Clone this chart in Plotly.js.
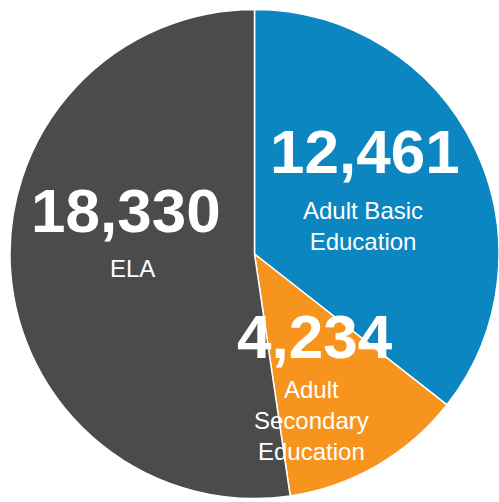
<!DOCTYPE html>
<html>
<head>
<meta charset="utf-8">
<script src="https://cdn.plot.ly/plotly-3.0.1.min.js"></script>
<style>html,body{margin:0;padding:0;background:#fff;}#chart{width:499px;height:502px;}</style>
</head>
<body>
<div id="chart"></div>
<script>
const categories = ["Adult Basic Education", "Adult Secondary Education", "ELA"];
const labelLines = ["Adult Basic<br>Education", "Adult<br>Secondary<br>Education", "ELA"];
const values = [12461, 4234, 18330];
const colors = ["#0b86c0", "#f7941e", "#4b4b4d"];

// label anchor positions (paper coords) for each slice's text
const numPos = [[0.731, 0.699], [0.631, 0.329], [0.253, 0.580]];
const txtPos = [[0.727, 0.549], [0.625, 0.163], [0.265, 0.466]];

const trace = {
  type: "pie",
  labels: categories,
  values: values,
  sort: false,
  direction: "clockwise",
  rotation: 0,
  marker: {colors: colors, line: {color: "#ffffff", width: 1.5}},
  textinfo: "none",
  hoverinfo: "none",
  showlegend: false,
  domain: {x: [0.02, 1.0], y: [0.006, 0.982]}
};

const annotations = [];
values.forEach((v, i) => {
  annotations.push({
    text: v.toLocaleString("en-US"),
    x: numPos[i][0], y: numPos[i][1], xref: "paper", yref: "paper",
    xanchor: "center", yanchor: "middle", showarrow: false,
    font: {family: "Liberation Sans, Arial, sans-serif", size: 62, color: "#ffffff", weight: "bold"}
  });
  annotations.push({
    text: labelLines[i],
    x: txtPos[i][0], y: txtPos[i][1], xref: "paper", yref: "paper",
    xanchor: "center", yanchor: "middle", showarrow: false,
    font: {family: "Liberation Sans, Arial, sans-serif", size: 24, color: "#ffffff"}
  });
});

Plotly.newPlot("chart", [trace], {
  width: 499, height: 502,
  margin: {l: 0, r: 0, t: 0, b: 0},
  paper_bgcolor: "#ffffff",
  annotations: annotations
}, {displayModeBar: false, staticPlot: true});
</script>
</body>
</html>
